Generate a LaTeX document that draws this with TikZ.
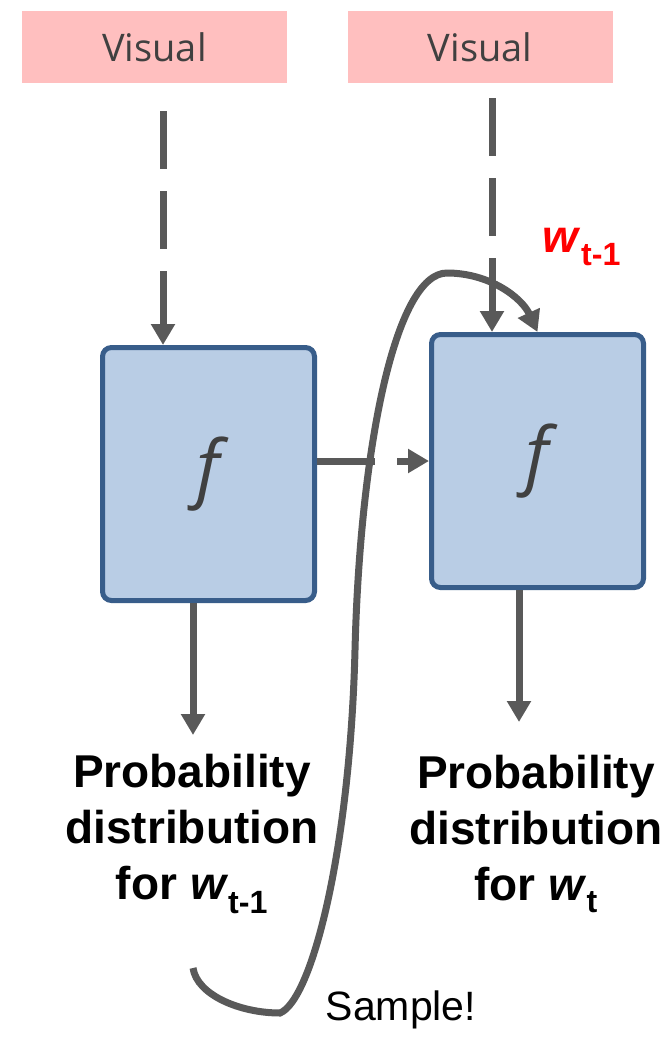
\documentclass[tikz,border=0pt]{standalone}
\usepackage{fontspec}
\setmainfont{Liberation Sans}
\newfontfamily\visfont{Open Sans}
\usetikzlibrary{arrows.meta}
\definecolor{visPink}{RGB}{255,191,191}
\definecolor{boxFill}{RGB}{185,205,229}
\definecolor{boxLine}{RGB}{56,93,138}
\definecolor{arrGray}{RGB}{89,89,89}
\definecolor{visText}{RGB}{64,64,64}

\begin{document}
\begin{tikzpicture}[x=1pt, y=-1pt,
    visual/.style={fill=visPink, minimum width=265pt, minimum height=72pt, inner sep=0pt,
      text=visText, font=\visfont\fontsize{38}{40}\selectfont},
    fbox/.style={draw=boxLine, line width=5pt, fill=boxFill, rounded corners=9pt,
      minimum width=212pt, minimum height=253pt, text=visText,
      font=\visfont\itshape\fontsize{74}{76}\selectfont},
    arr/.style={draw=arrGray, line width=7pt, -{Triangle[length=21pt,width=23pt]}},
    dasharr/.style={arr, dash pattern=on 58pt off 22pt},
    prob/.style={align=center, font=\bfseries\fontsize{46}{56}\selectfont}]
  \useasboundingbox (0,0) rectangle (672,1037);
  % inputs on top
  \node[visual] (vis1) at (154.5,47) {Visual};
  \node[visual] (vis2) at (480,47) {Visual};
  % the two f cells
  \node[fbox] (f1) at (208.5,474) {f};
  \node[fbox] (f2) at (537.5,461) {f};
  % dashed inputs
  \coordinate (in1) at (163,111);
  \coordinate (in2) at (492,98);
  \draw[dasharr] (in1) -- (in1 |- f1.north);
  \draw[dasharr] (in2) -- (in2 |- f2.north);
  \draw[dasharr] (f1.east |- f2.west) -- (f2.west);
  % outputs
  \node[prob] (p1) at (192,834) {Probability\\distribution\\for \textit{w}\textsubscript{t-1}};
  \node[prob] (p2) at (536,834) {Probability\\distribution\\for \textit{w}\textsubscript{t}};
  \coordinate (o1) at (193,735);
  \coordinate (o2) at (519,722);
  \draw[arr] (f1.south -| o1) -- (o1);
  \draw[arr] (f2.south -| o2) -- (o2);
  % sampled word fed back
  \coordinate (smp) at (193,968);
  \coordinate (low) at (280,1013);
  \coordinate (top) at (447,273);
  \node[font=\fontsize{41}{44}\selectfont] (sample) at (401,1010) {Sample!};
  \node[text=red, font=\bfseries\fontsize{46}{48}\selectfont] (wlab) at (582,247)
    {\textit{w}\textsubscript{t-1}};
  \draw[arr] (smp) .. controls (197,995) and (240,1013) .. (low)
    .. controls (312,1000) and (350,850) .. (355,650)
    .. controls (360,450) and (395,273) .. (top)
    .. controls (490,273) and (522,298) .. (f2.north);
\end{tikzpicture}
\end{document}
